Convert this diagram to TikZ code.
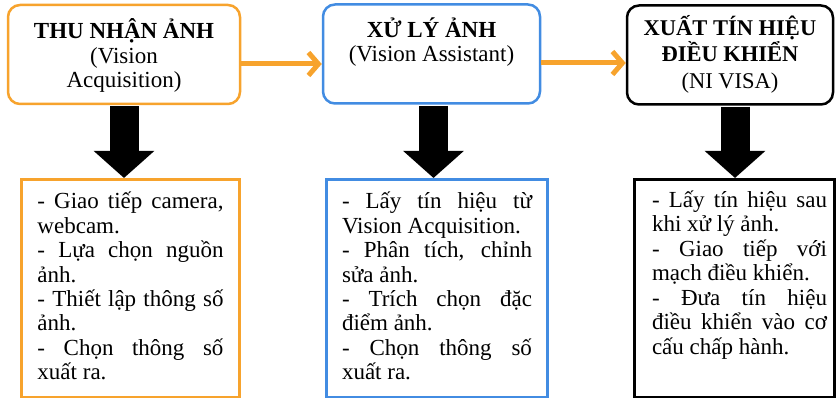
\documentclass[tikz,border=0pt]{standalone}
\usepackage{fontspec}
\setmainfont{Liberation Serif}
\usetikzlibrary{arrows.meta}
\definecolor{boxorange}{RGB}{247,163,45}
\definecolor{boxblue}{RGB}{66,140,226}
% one justified line of a list
\newcommand{\jline}[1]{\hbox to\linewidth{\spaceskip=.25em plus 1fil\relax #1}}

\begin{document}
\begin{tikzpicture}[x=1pt,y=-1pt,
    font=\fontsize{23}{24.5}\selectfont,
    topbox/.style={draw=#1, line width=2.5pt, rounded corners=12pt, fill=white,
                   inner sep=0pt, minimum height=99pt},
    listbox/.style={draw=#1, line width=3pt, fill=white, inner sep=0pt,
                    minimum height=218pt, anchor=north west},
    flowarrow/.style={draw=boxorange, line width=5pt,
                      -{Straight Barb[length=10pt,width=23pt]}},
    downarrow/.style={line width=29pt, shorten <=1.25pt,
                      -{Triangle[length=27pt,width=59pt]}}]
    \useasboundingbox (0,0) rectangle (836,398);
    % Stages
    \node[topbox=boxorange, minimum width=232pt] (t1) at (124,54.5)
        {\parbox[c][99pt][t]{220pt}{\centering\rule{0pt}{34pt}\textbf{THU NHẬN ẢNH}\\(Vision\\Acquisition)}};
    \node[topbox=boxblue, minimum width=217pt] (t2) at (431.5,54)
        {\parbox[c][99pt][t]{205pt}{\centering\rule{0pt}{33pt}\textbf{XỬ LÝ ẢNH}\\(Vision Assistant)}};
    \node[topbox=black, minimum width=206pt] (t3) at (730,55)
        {\parbox[c][99pt][t]{200pt}{\centering\fontsize{22.5}{26.5}\selectfont\rule{0pt}{30pt}\textbf{XUẤT TÍN HIỆU}\\\textbf{ĐIỀU KHIỂN}\\(NI VISA)}};
    % Details
    \node[listbox=boxorange, minimum width=218pt] (b1) at (20,178)
        {\parbox[c][218pt][t]{186pt}{\jline{\rule{0pt}{29pt}- Giao tiếp camera,}
        webcam.\par
        \jline{- Lựa chọn nguồn}
        ảnh.\par
        \jline{- Thiết lập thông số}
        ảnh.\par
        \jline{- Chọn thông số}
        xuất ra.}};
    \node[listbox=boxblue, minimum width=221pt] (b2) at (325,178)
        {\parbox[c][218pt][t]{190pt}{\jline{\rule{0pt}{29pt}- Lấy tín hiệu từ}
        Vision Acquisition.\par
        \jline{- Phân tích, chỉnh}
        sửa ảnh.\par
        \jline{- Trích chọn đặc}
        điểm ảnh.\par
        \jline{- Chọn thông số}
        xuất ra.}};
    \node[listbox=black, minimum width=200pt] (b3) at (633,178)
        {\hspace*{10pt}\parbox[c][218pt][t]{175pt}{\jline{\rule{0pt}{28pt}- Lấy tín hiệu sau}
        khi xử lý ảnh.\par
        \jline{- Giao tiếp với}
        mạch điều khiển.\par
        \jline{- Đưa tín hiệu}
        \jline{điều khiển vào cơ}
        cấu chấp hành.}};
    % Flow between stages
    \coordinate (a1) at ([yshift=-9.5pt]t1.east);
    \coordinate (a2) at ([yshift=-9pt]t2.east);
    \draw[flowarrow] (a1) -- (a1 -| t2.west);
    \draw[flowarrow] (a2) -- (a2 -| t3.west);
    % Stage to details
    \draw[downarrow] (t1.south) -- (t1.south |- b1.north);
    \draw[downarrow] ([xshift=2pt]t2.south) -- ([xshift=2pt]t2.south |- b2.north);
    \draw[downarrow] ([xshift=5pt]t3.south) -- ([xshift=5pt]t3.south |- b3.north);
\end{tikzpicture}
\end{document}
